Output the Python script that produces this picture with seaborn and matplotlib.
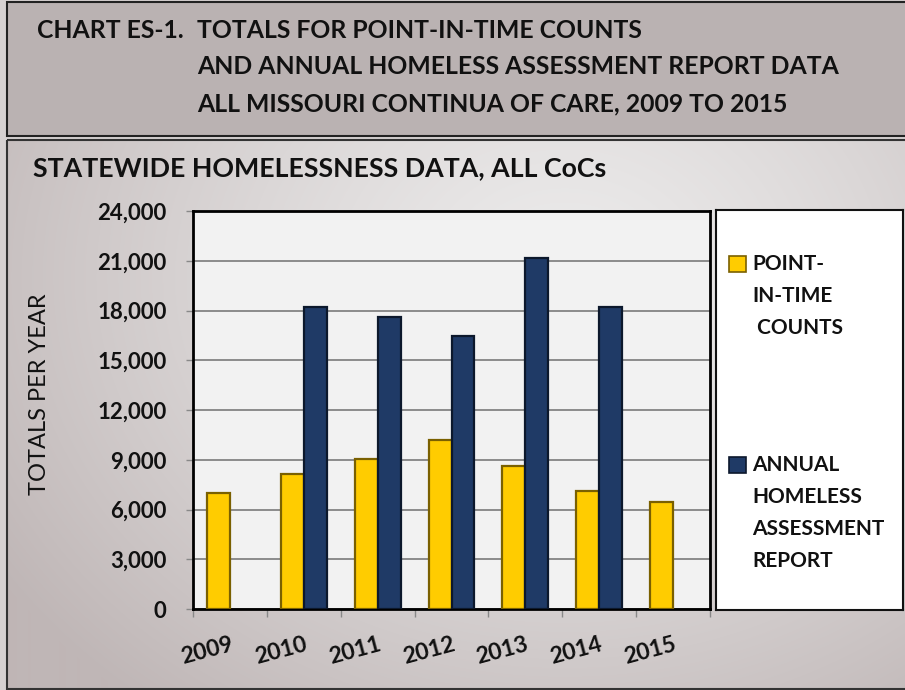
import numpy as np
import pandas as pd
import matplotlib
matplotlib.use("Agg")
import matplotlib.pyplot as plt
from matplotlib.patches import Rectangle
from matplotlib.colors import to_rgb
from matplotlib.transforms import ScaledTranslation
import seaborn as sns

# ---- data ----
years = ["2009", "2010", "2011", "2012", "2013", "2014", "2015"]
pit_counts = [7000, 8130, 9040, 10180, 8630, 7130, 6470]
ahar_counts = [np.nan, 18210, 17630, 16450, 21190, 18210, np.nan]
series_names = ["POINT-IN-TIME COUNTS", "ANNUAL HOMELESS ASSESSMENT REPORT"]
legend_lines = [["POINT-", "IN-TIME", " COUNTS"],
                ["ANNUAL", "HOMELESS", "ASSESSMENT", "REPORT"]]
y_ticks = [0, 3000, 6000, 9000, 12000, 15000, 18000, 21000, 24000]
header_lines = ["TOTALS FOR POINT-IN-TIME COUNTS",
                "AND ANNUAL HOMELESS ASSESSMENT REPORT DATA",
                "ALL MISSOURI CONTINUA OF CARE, 2009 TO 2015"]
header_label = "CHART ES-1."
subtitle = "STATEWIDE HOMELESSNESS DATA, ALL CoCs"
y_label = "TOTALS PER YEAR"

YELLOW = "#ffcc00"
YELLOW_EDGE = "#7a6000"
BLUE = "#1f3a66"
BLUE_EDGE = "#0c182c"

sns.set_theme(style="white")
plt.rcParams["font.family"] = ["Lato", "DejaVu Sans"]

W, H = 905, 690
fig = plt.figure(figsize=(W / 100, H / 100), dpi=100)
fig.patch.set_facecolor("#d6d1d1")

# ---- background (pixel coordinates) ----
bg = fig.add_axes([0, 0, 1, 1], zorder=-10)
bg.set_xlim(0, W)
bg.set_ylim(H, 0)
bg.axis("off")

# header box
bg.add_patch(Rectangle((7, 2), 905, 134, facecolor="#bab2b2",
                       edgecolor="#222222", lw=1.5))
# lower panel gradient
px0, py0, px1, py1 = 7, 140, 905, 689
gh, gw = py1 - py0, px1 - px0
yy, xx = np.mgrid[0:gh, 0:gw]
cx, cy = gw * 0.62, gh * 0.25
d = np.sqrt(((xx - cx) / (gw * 0.75)) ** 2 + ((yy - cy) / (gh * 1.0)) ** 2)
d = np.clip(d, 0, 1) ** 1.3
c_in = np.array(to_rgb("#ecebeb"))
c_out = np.array(to_rgb("#bfb6b6"))
img = c_in[None, None, :] * (1 - d[..., None]) + c_out[None, None, :] * d[..., None]
bg.imshow(img, extent=(px0, px1, py1, py0), aspect="auto", zorder=0)
bg.add_patch(Rectangle((px0, py0), 905, gh, facecolor="none",
                       edgecolor="#333333", lw=1.5, zorder=1))

# header text
bg.text(37, 30, header_label, fontsize=17.8, fontweight="bold", color="#111111",
        va="center", ha="left")
for i, line in enumerate(header_lines):
    bg.text(197, 30 + i * 37, line, fontsize=17.8, fontweight="bold",
            color="#111111", va="center", ha="left")
bg.text(33, 168, subtitle, fontsize=19.3, fontweight="bold", color="#111111",
        va="center", ha="left")
bg.text(40, 394, y_label, fontsize=17, color="#111111", rotation=90,
        va="center", ha="center")

# ---- main bar chart ----
ax = fig.add_axes([193 / W, (H - 609) / H, (710 - 193) / W, (609 - 211) / H])
df = pd.DataFrame({
    "year": years * 2,
    "series": [series_names[0]] * len(years) + [series_names[1]] * len(years),
    "value": pit_counts + ahar_counts,
})
sns.barplot(data=df, x="year", y="value", hue="series", hue_order=series_names,
            palette=[YELLOW, BLUE], width=0.62, ax=ax, legend=False,
            linewidth=1.6, saturation=1)
for cont, ec in zip(ax.containers, [YELLOW_EDGE, BLUE_EDGE]):
    for bar in cont:
        bar.set_edgecolor(ec)
        bar.set_zorder(3)

ax.set_facecolor("#f2f2f2")
ax.set_ylim(0, 24000)
ax.set_xlim(-0.5, len(years) - 0.5)
ax.set_yticks(y_ticks)
ax.set_yticklabels([f"{v:,}" for v in y_ticks], fontsize=16, fontweight="bold",
                   color="#111111")
ax.yaxis.grid(True, color="#7a7a7a", lw=1.2, zorder=1)
ax.set_axisbelow(True)
ax.tick_params(axis="y", which="major", left=True, length=5, width=1,
               color="#888888", pad=14, direction="out")

ax.set_xticks(range(len(years)))
ax.set_xticklabels(years, fontsize=16.5, fontweight="bold", color="#111111",
                   rotation=15, ha="right", rotation_mode="anchor", va="top")
shift = ScaledTranslation(-8 / 100, 0, fig.dpi_scale_trans)
for lbl in ax.get_xticklabels():
    lbl.set_transform(lbl.get_transform() + shift)
ax.set_xticks(np.arange(-0.5, len(years), 1.0), minor=True)
ax.tick_params(axis="x", which="major", length=0, pad=18)
ax.tick_params(axis="x", which="minor", bottom=True, length=6, width=1,
               color="#888888", direction="out")
ax.set_xlabel("")
ax.set_ylabel("")
for s in ax.spines.values():
    s.set_visible(True)
    s.set_color("#000000")
    s.set_linewidth(2)

# ---- legend box ----
lax = fig.add_axes([716 / W, (H - 610) / H, (903 - 716) / W, (610 - 210) / H])
lax.set_xlim(0, 187)
lax.set_ylim(400, 0)
lax.set_xticks([])
lax.set_yticks([])
lax.set_facecolor("#ffffff")
for s in lax.spines.values():
    s.set_color("#111111")
    s.set_linewidth(1.5)
entry_y = [54, 255]
for lines, col, ec, y0 in zip(legend_lines, [YELLOW, BLUE],
                              [YELLOW_EDGE, BLUE_EDGE], entry_y):
    lax.add_patch(Rectangle((13, y0 - 8), 17, 16, facecolor=col,
                            edgecolor=ec, lw=1.2))
    for j, line in enumerate(lines):
        lax.text(36, y0 + j * 32, line, fontsize=15, fontweight="bold",
                 color="#111111", va="center", ha="left")

fig.savefig("out.png", dpi=100)
